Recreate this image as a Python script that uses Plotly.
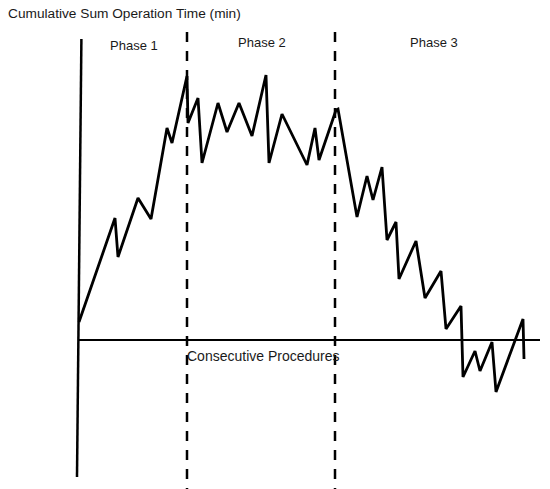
import plotly.graph_objects as go

# Consecutive procedure index (scaled) and cumulative sum of operation time (min)
procedure = [0, 9, 9.75, 14.75, 18, 22, 23.25, 27, 27.25, 29.75, 30.75, 34.75, 37, 40,
             43.25, 46.75, 47.5, 50.75, 57, 59, 60, 64.25, 64.75, 69.5, 72, 73.5, 75.75,
             77, 79.25, 80, 84.25, 86.5, 90.5, 91.75, 95.5, 96, 99, 100.25, 103.25,
             104.25, 111, 111.25]
cusum = [9, 61, 41.5, 71, 60.5, 106, 98.5, 132, 108.5, 121, 88.5, 118.5, 104, 118.5,
         102, 132.5, 88.5, 113, 87.5, 106, 90, 115, 115.5, 61.5, 82, 70, 86.5,
         50, 59, 30.5, 49.5, 21, 34.5, 5.5, 17, -18.5, -5.5, -15.5, -1,
         -26, 10.5, -9.5]

phase_bounds = [27, 64]
phase_labels = ["Phase 1", "Phase 2", "Phase 3"]
phase_label_x = [13.75, 45.75, 88.75]
phase_label_y = [147.5, 149, 149]

y_title = "Cumulative Sum Operation Time (min)"
x_title = "Consecutive Procedures"

FONT = "Liberation Sans, Arial, Helvetica, sans-serif"
TXT = "#1a1a1a"

fig = go.Figure()
fig.add_trace(go.Scatter(
    x=procedure, y=cusum, mode="lines",
    line=dict(color="black", width=2.8),
    hoverinfo="skip", showlegend=False,
))

shapes = [
    # x axis
    dict(type="line", xref="x", yref="y", x0=0, x1=115.25, y0=0, y1=0,
         line=dict(color="black", width=2)),
    # y axis
    dict(type="line", xref="x", yref="y", x0=0.6, x1=-0.5, y0=150.5, y1=-68.5,
         line=dict(color="black", width=2.5)),
]
for b in phase_bounds:
    shapes.append(dict(type="line", xref="x", yref="y", x0=b, x1=b, y0=154, y1=-74.5,
                       line=dict(color="black", width=2.5, dash="10px,9px")))

annotations = [
    dict(text=y_title, xref="paper", yref="paper", x=6 / 550, y=1 - 14 / 489,
         xanchor="left", yanchor="middle", showarrow=False,
         font=dict(size=13.7, color=TXT, family=FONT)),
    dict(text=x_title, xref="x", yref="y", x=46.2, y=-8,
         xanchor="center", yanchor="middle", showarrow=False,
         font=dict(size=14, color=TXT, family=FONT)),
]
for lab, lx, ly in zip(phase_labels, phase_label_x, phase_label_y):
    annotations.append(dict(text=lab, xref="x", yref="y", x=lx, y=ly,
                            xanchor="center", yanchor="middle", showarrow=False,
                            font=dict(size=13, color=TXT, family=FONT)))

fig.update_layout(
    width=550, height=489,
    margin=dict(l=0, r=0, t=0, b=0),
    paper_bgcolor="white", plot_bgcolor="white",
    shapes=shapes, annotations=annotations,
    xaxis=dict(range=[-19.75, 117.75], visible=False, fixedrange=True),
    yaxis=dict(range=[-74.5, 170], visible=False, fixedrange=True),
    showlegend=False,
)

fig.write_html("out.html",
               config={"displayModeBar": False, "staticPlot": True},
               post_script="document.body.style.margin='0';document.body.style.overflow='hidden';")
